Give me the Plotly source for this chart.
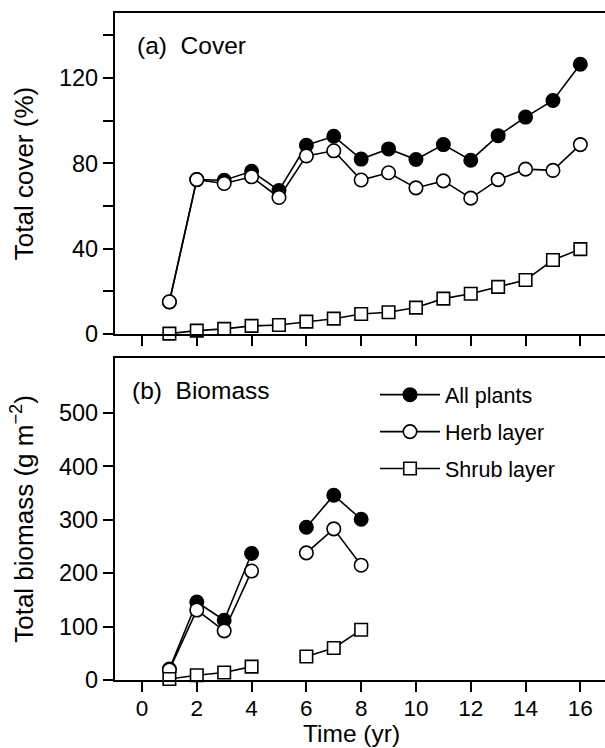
import plotly.graph_objects as go

years = list(range(1, 17))
cover_all = [15, 72.4, 72.1, 76.3, 67.3, 88.5, 92.7, 82.0, 86.8, 81.8, 88.8, 81.5, 93.0, 101.7, 109.5, 126.5]
cover_herb = [15.1, 72.4, 70.6, 73.7, 64.0, 83.5, 85.9, 72.2, 75.6, 68.5, 71.8, 63.7, 72.4, 77.3, 76.7, 88.8]
cover_shrub = [0.2, 1.6, 2.4, 3.8, 4.2, 5.8, 7.2, 9.4, 10.2, 12.4, 16.6, 18.9, 22.1, 25.3, 34.7, 39.8]

bio_years = [1, 2, 3, 4, 5, 6, 7, 8]
bio_all = [20.5, 146, 112, 237, None, 286, 346, 301]
bio_herb = [19, 131, 92, 204, None, 238, 283, 215]
bio_shrub = [2, 9, 14, 25, None, 44, 60, 94]

series_names = ["All plants", "Herb layer", "Shrub layer"]

FONT = "Liberation Sans, Arial, sans-serif"
styles = [
    dict(symbol="circle", size=13.5, color="black", line=dict(color="black", width=1.5)),
    dict(symbol="circle", size=13.5, color="white", line=dict(color="black", width=1.6)),
    dict(symbol="square", size=12.5, color="white", line=dict(color="black", width=1.6)),
]

fig = go.Figure()
for name, vals, st in zip(series_names, [cover_all, cover_herb, cover_shrub], styles):
    fig.add_trace(go.Scatter(x=years, y=vals, mode="lines+markers", name=name,
                             line=dict(color="black", width=1.6), marker=st,
                             xaxis="x", yaxis="y", showlegend=False, cliponaxis=False))
for name, vals, st in zip(series_names, [bio_all, bio_herb, bio_shrub], styles):
    fig.add_trace(go.Scatter(x=bio_years, y=vals, mode="lines+markers", name=name,
                             line=dict(color="black", width=1.6), marker=st,
                             xaxis="x2", yaxis="y2", showlegend=True, cliponaxis=False,
                             legendgroup=name, connectgaps=False))

axis_common = dict(showline=True, linecolor="black", linewidth=2.2,
                   ticks="outside", ticklen=10, tickwidth=1.6, tickcolor="black",
                   showgrid=False, zeroline=False,
                   tickfont=dict(family=FONT, size=23.5, color="black"))

top_ticks = [0, 40, 80, 120]
bot_ticks = [0, 100, 200, 300, 400, 500]
x_ticks = [0, 2, 4, 6, 8, 10, 12, 14, 16]
x_range = [-0.985, 16.9]

fig.update_layout(
    width=605, height=748,
    margin=dict(l=115, r=0, t=13, b=68),
    paper_bgcolor="white", plot_bgcolor="white",
    font=dict(family=FONT, color="black"),
    xaxis=dict(axis_common, mirror=True, domain=[0, 1], range=x_range, anchor="y",
               tickvals=x_ticks, showticklabels=False),
    yaxis=dict(axis_common, mirror=False, domain=[0.5187, 1], range=[0, 150.5], anchor="x",
               tickvals=top_ticks,
               minor=dict(tick0=0, dtick=20, ticks="outside", ticklen=10, tickwidth=1.6,
                          tickcolor="black", showgrid=False),
               title=dict(text="Total cover (%)", font=dict(family=FONT, size=26), standoff=18)),
    xaxis2=dict(axis_common, mirror=True, domain=[0, 1], range=x_range, anchor="y2",
                tickvals=x_ticks, ticklabelstandoff=-3,
                tickfont=dict(family=FONT, size=22.5, color="black")),
    yaxis2=dict(axis_common, mirror=False, domain=[0, 0.4828], range=[0, 603], anchor="x2",
                tickvals=bot_ticks,
                title=dict(text="Total biomass (g m<sup>\u22122</sup>)", font=dict(family=FONT, size=26), standoff=18)),
    legend=dict(x=(375 - 115) / 490, y=0.4585, xanchor="left", yanchor="top",
                font=dict(family=FONT, size=21.5, color="black"), itemwidth=60,
                bgcolor="rgba(0,0,0,0)", tracegroupgap=6, traceorder="grouped"),
    annotations=[
        dict(text="(a)  Cover", x=20 / 490, y=(680 - 45) / 667, xref="paper", yref="paper",
             xanchor="left", yanchor="middle", showarrow=False,
             font=dict(family=FONT, size=24.5, color="black")),
        dict(text="(b)  Biomass", x=15 / 490, y=(680 - 390) / 667, xref="paper", yref="paper",
             xanchor="left", yanchor="middle", showarrow=False,
             font=dict(family=FONT, size=24.5, color="black")),
        dict(text="Time (yr)", x=(351 - 115) / 490, y=(680 - 733.5) / 667, xref="paper", yref="paper",
             xanchor="center", yanchor="middle", showarrow=False,
             font=dict(family=FONT, size=24.5, color="black")),
    ],
)

fig.write_html("out.html")
